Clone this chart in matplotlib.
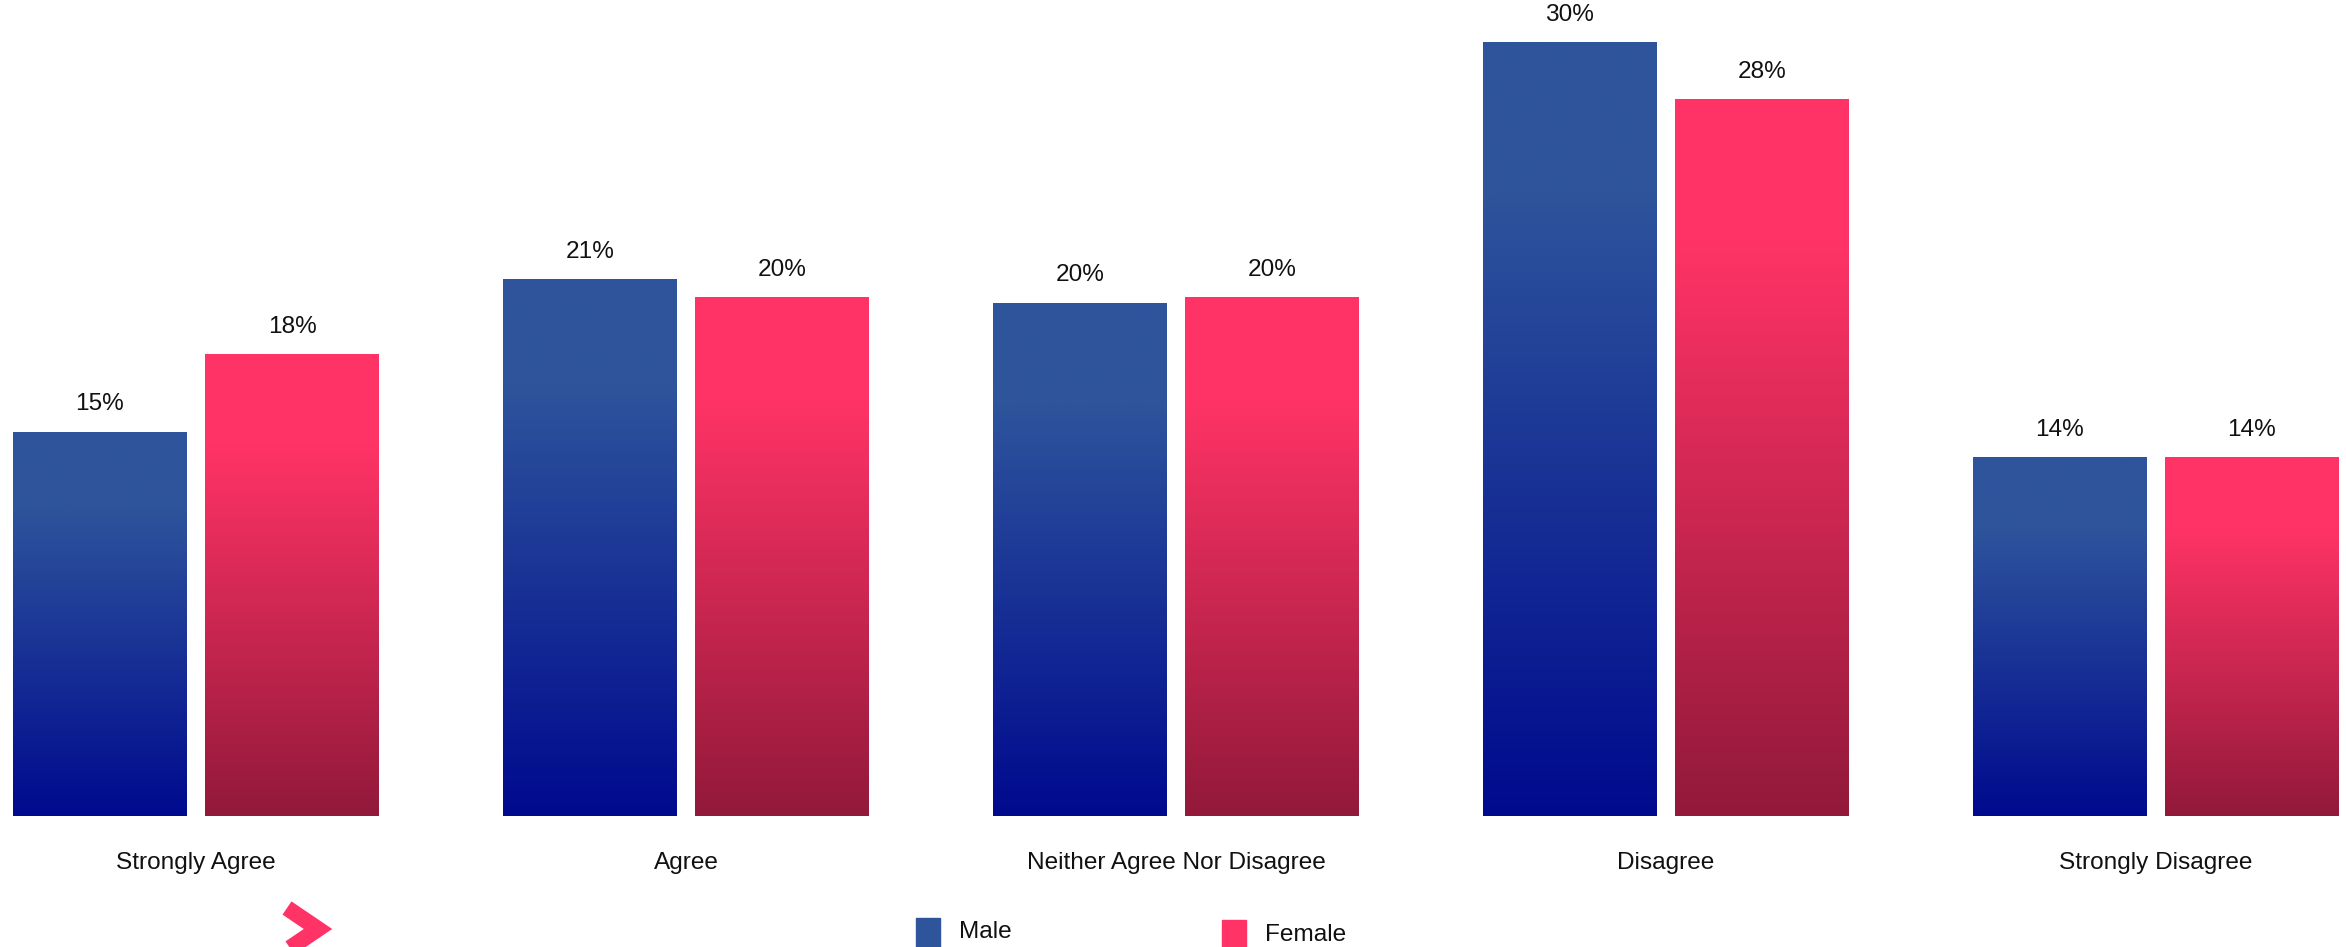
import matplotlib.pyplot as plt
import numpy as np
from matplotlib.colors import to_rgb
from matplotlib.lines import Line2D
from matplotlib.patches import Rectangle

plt.rcParams['font.family'] = ['Liberation Sans', 'DejaVu Sans']
plt.rcParams['font.size'] = 17.6

# data
categories = ['Strongly Agree', 'Agree', 'Neither Agree Nor Disagree', 'Disagree', 'Strongly Disagree']
series = ['Male', 'Female']
male = [14.9, 20.8, 19.9, 30.0, 13.9]
female = [17.9, 20.1, 20.1, 27.8, 13.9]
male_labels = ['15%', '21%', '20%', '30%', '14%']
female_labels = ['18%', '20%', '20%', '28%', '14%']

# gradient colours (top, bottom)
male_cols = ('#2E549C', '#000A8E')
female_cols = ('#FF3366', '#92193A')

W, H = 2346, 947
fig = plt.figure(figsize=(W / 100, H / 100), dpi=100)
ax = fig.add_axes([0, 131 / H, 1, 816 / H])
xlim = (-0.4, 4.388)
ylim = (0, 816 / 25.8)

x = np.arange(len(categories))
width = 0.355
offset = 0.196


def gradient(top, bottom, n=200):
    t = np.linspace(0, 1, n)
    # flat for the top fifth, then a linear fade
    f = np.clip((t - 0.2) / 0.8, 0, 1)[:, None]
    c = np.array(to_rgb(top)) * (1 - f) + np.array(to_rgb(bottom)) * f
    return c[:, None, :]


for vals, labels, cols, sign in [(male, male_labels, male_cols, -1),
                                 (female, female_labels, female_cols, 1)]:
    bars = ax.bar(x + sign * offset, vals, width, color='none', edgecolor='none')
    img = gradient(*cols)
    for b, lab in zip(bars, labels):
        x0, h = b.get_x(), b.get_height()
        im = ax.imshow(img, extent=(x0, x0 + b.get_width(), 0, h), aspect='auto',
                       origin='upper', interpolation='bilinear', zorder=1)
        im.set_clip_path(b)
        ax.annotate(lab, (x0 + b.get_width() / 2, h), xytext=(0, 19.5),
                    textcoords='offset points', ha='center', va='center', color='#111111')

for i, cat in enumerate(categories):
    ax.annotate(cat, (i, 0), xytext=(0, -33.5), textcoords='offset points',
                ha='center', va='center', color='#111111')

ax.set_xlim(*xlim)
ax.set_ylim(*ylim)
ax.axis('off')

# legend along the bottom edge
leg_cols = [male_cols[0], female_cols[0]]
for k, name in enumerate(series):
    sx = 916 + k * 306
    fig.add_artist(Rectangle((sx / W, -10 / H), 24 / W, (29 + 10 - k * 2) / H,
                             transform=fig.transFigure, color=leg_cols[k]))
    fig.text((sx + 43) / W, (H - 932 - k * 3) / H, name, ha='left', va='center',
             color='#111111')

# pink chevron mark bottom left
fig.add_artist(Line2D([287 / W, 318 / W, 287 / W], [(H - 908) / H, (H - 929) / H, (H - 950) / H],
                      transform=fig.transFigure, color='#FF3366', lw=11.5,
                      solid_joinstyle='miter', solid_capstyle='butt'))

fig.savefig('out.png', dpi=100)
